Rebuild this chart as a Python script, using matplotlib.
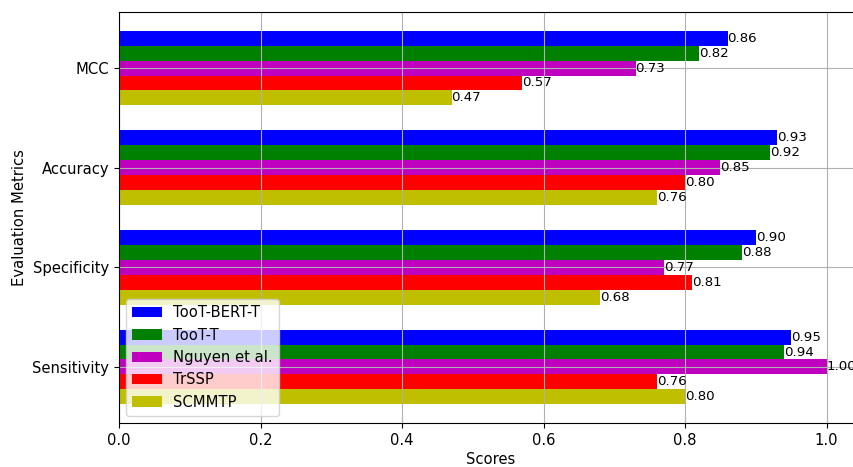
import numpy as np
from matplotlib import pyplot as plt

plt.rcParams['font.size'] = 10.6

metrics = ['Sensitivity', 'Specificity', 'Accuracy', 'MCC']
methods = ['TooT-BERT-T', 'TooT-T', 'Nguyen et al.', 'TrSSP', 'SCMMTP']
colors = ['b', 'g', 'm', 'r', 'y']

toot_bert_t = [0.95, 0.90, 0.93, 0.86]
toot_t = [0.94, 0.88, 0.92, 0.82]
nguyen = [1.00, 0.77, 0.85, 0.73]
trssp = [0.76, 0.81, 0.80, 0.57]
scmmtp = [0.80, 0.68, 0.76, 0.47]
scores = [toot_bert_t, toot_t, nguyen, trssp, scmmtp]

fig = plt.figure(figsize=(8.54, 4.67), dpi=100)
ax = fig.add_axes([119 / 854, 44 / 467, 743 / 854, 411 / 467])

y = np.arange(len(metrics))
h = 0.15
for i, (name, vals) in enumerate(zip(methods, scores)):
    pos = y + (2 - i) * h
    ax.barh(pos, vals, height=h, color=colors[i], label=name)
    for p, v in zip(pos, vals):
        ax.text(v, p, '{:.2f}'.format(v), va='center', ha='left', fontsize=9.6)

ax.set_yticks(y)
ax.set_yticklabels(metrics)
ax.set_xlabel('Scores', labelpad=3)
ax.set_ylabel('Evaluation Metrics')
ax.grid(True)
ax.legend(loc='lower left')

plt.savefig('out.png', dpi=100)
